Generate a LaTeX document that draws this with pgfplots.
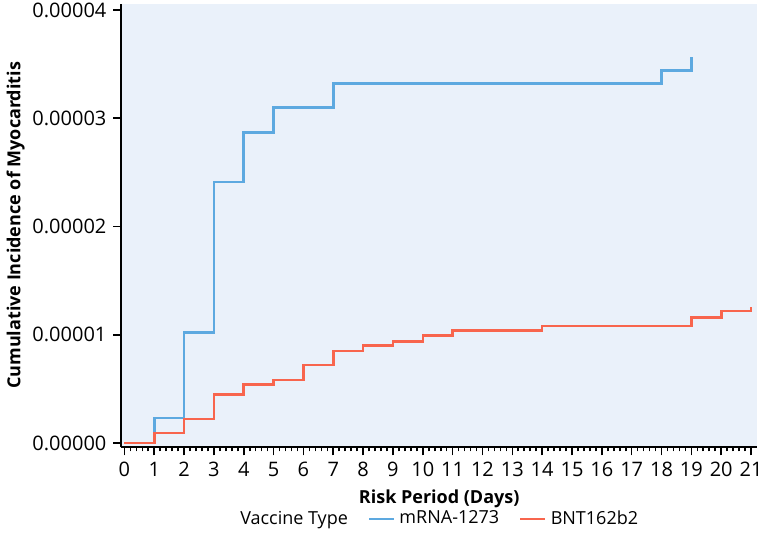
\documentclass[border=0pt]{standalone}
\usepackage{fontspec}
\setmainfont{Open Sans}
\usepackage{pgfplots}
\pgfplotsset{compat=1.18}

\definecolor{bgblue}{HTML}{EAF1FA}
\definecolor{mrna}{HTML}{5DA9E0}
\definecolor{bnt}{HTML}{F8654D}

\begin{document}
\begin{tikzpicture}
\begin{axis}[
    scale only axis,
    width=318pt, height=222pt,
    xmin=-0.1, xmax=21.2,
    ymin=-0.0000004, ymax=0.0000406,
    axis background/.style={fill=bgblue},
    axis x line*=bottom, axis y line*=left,
    axis line style={line width=1pt, -},
    xtick={0,...,21},
    minor x tick num=4,
    ytick={0,0.00001,0.00002,0.00003,0.00004},
    scaled y ticks=false,
    yticklabel style={/pgf/number format/.cd, fixed, fixed zerofill, precision=5, assume math mode=true},
    xticklabel style={/pgf/number format/assume math mode=true},
    tick align=outside,
    major tick length=4pt, minor tick length=2pt,
    tick style={line width=0.8pt, black},
    ticklabel style={font=\fontsize{10}{11}\selectfont},
    xlabel={\textbf{Risk Period (Days)}},
    ylabel={\textbf{Cumulative Incidence of Myocarditis}},
    label style={font=\fontsize{9}{10}\selectfont},
    xlabel style={yshift=0.5pt},
    ylabel style={yshift=-3pt},
    legend columns=3,
    legend style={draw=none, fill=none, at={(0.5,0)}, anchor=north, yshift=-27.5pt,
        font=\fontsize{9}{10}\selectfont,
        /tikz/every even column/.append style={column sep=8pt}},
    legend image code/.code={\draw[#1] (0pt,0pt) -- (12.5pt,0pt);},
]
\addlegendimage{empty legend}
\addlegendentry{Vaccine Type}
\addplot[const plot, color=mrna, line width=1.3pt] coordinates {
(0,0) (1,0.0000023) (2,0.0000102) (3,0.0000241) (4,0.0000287) (5,0.0000310)
(7,0.0000332) (18,0.0000344) (19,0.0000357)};
\addlegendentry{mRNA-1273}
\addplot[const plot, color=bnt, line width=1.3pt] coordinates {
(0,0) (1,0.0000009) (2,0.0000022) (3,0.0000045) (4,0.0000054) (5,0.0000058)
(6,0.0000072) (7,0.0000085) (8,0.0000090) (9,0.0000094) (10,0.0000099)
(11,0.0000104) (14,0.0000108) (19,0.0000116) (20,0.0000122) (21,0.0000126)};
\addlegendentry{BNT162b2}
\end{axis}
\coordinate (bbsw) at (current bounding box.south west);
\coordinate (bbne) at (current bounding box.north east);
\pgfresetboundingbox
\path ([yshift=-1pt]bbsw) rectangle ([xshift=3pt,yshift=-2pt]current axis.east |- bbne);
\end{tikzpicture}
\end{document}
